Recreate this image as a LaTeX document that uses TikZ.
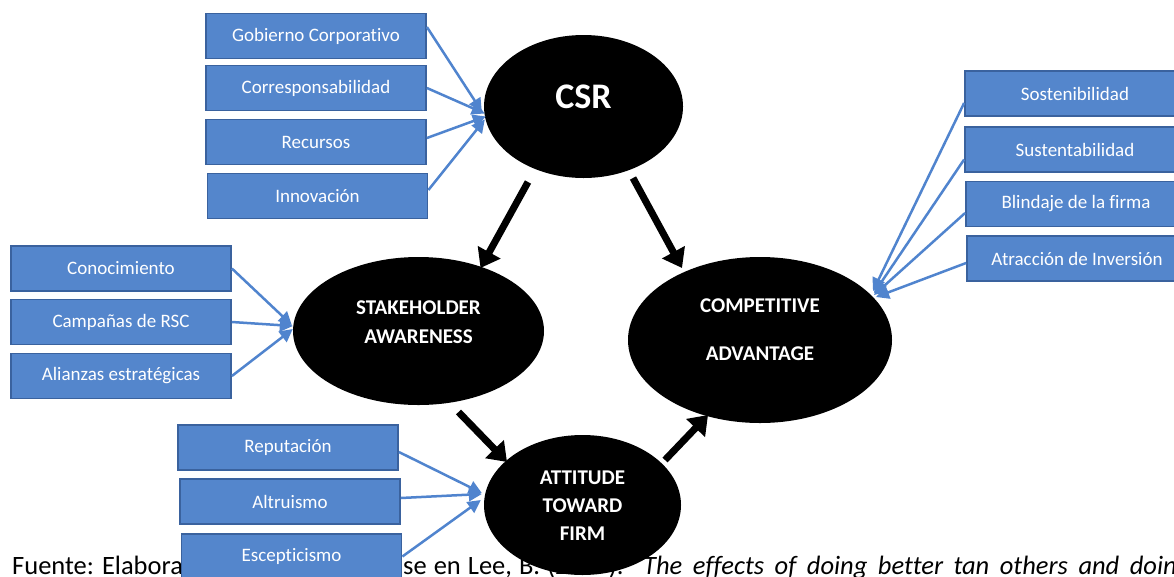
\documentclass[tikz,border=0pt]{standalone}
\usepackage{fontspec}
\setmainfont{Carlito}[Ligatures=NoCommon]
\usetikzlibrary{arrows.meta,shapes.geometric}
\definecolor{boxfill}{RGB}{84,134,204}
\definecolor{boxline}{RGB}{58,98,158}
\definecolor{linkblue}{RGB}{80,132,206}
\begin{document}
\begin{tikzpicture}[x=1pt,y=-1pt,
  box/.style={draw=boxline, line width=1.8pt, fill=boxfill, text=white,
    minimum width=220pt, minimum height=45pt, inner sep=0pt,
    font=\fontsize{19}{22}\selectfont},
  bubble/.style={ellipse, fill=black, draw=none, inner sep=0pt},
  bubtext/.style={text=white, font=\bfseries\fontsize{21}{29}\selectfont, align=center, inner sep=0pt},
  link/.style={draw=linkblue, line width=2.5pt, -{Triangle[length=13pt,width=13pt]}},
  flow/.style={draw=black, line width=7pt, -{Triangle[length=18pt,width=25pt]}},
  foot/.style={inner sep=0pt, font=\fontsize{26.5}{30}\selectfont}]
\useasboundingbox (0,0) rectangle (1174,576);
\clip (0,0) rectangle (1174,576);
\fill[white] (0,0) rectangle (1174,576);

% footer text (partly hidden)
\node[foot, anchor=base west] (f1) at (12,574) {Fuente: Elaboración propia con};
\node[foot, anchor=base west] (f2) at (376.4,574) {\spaceskip=7pt base en Lee, B. (2017).};
\node[foot, anchor=base west] (f3) at (643,574) {\spaceskip=10.5pt\itshape The effects of doing better tan others and doing good};

% ellipses
\node[bubble, minimum width=199pt, minimum height=143pt] (csr) at (583.5,106.5) {};
\node[bubble, minimum width=251pt, minimum height=148pt] (stake) at (418.5,331) {};
\node[bubble, minimum width=264pt, minimum height=166pt] (comp) at (760,340) {};
\node[bubble, minimum width=197pt, minimum height=140pt] (att) at (582.5,505) {};

\node[bubtext, font=\bfseries\fontsize{36}{40}\selectfont] (csrt) at (583.5,97) {CSR};
\node[bubtext] (staket) at (418.5,322) {STAKEHOLDER\\AWARENESS};
\node[bubtext, font=\bfseries\fontsize{21}{48}\selectfont] (compt) at (760,330) {COMPETITIVE\\ADVANTAGE};
\node[bubtext, font=\bfseries\fontsize{21}{28}\selectfont] (attt) at (582.5,506) {ATTITUDE\\TOWARD\\FIRM};

% boxes
\node[box] (gob) at (316,36) {Gobierno Corporativo};
\node[box] (cor) at (316,88) {Corresponsabilidad};
\node[box] (rec) at (316,142) {Recursos};
\node[box] (inn) at (317.5,196) {Innovación};

\node[box] (sos) at (1075,93.5) {Sostenibilidad};
\node[box] (sus) at (1075,149.5) {Sustentabilidad};
\node[box] (bli) at (1076,204) {Blindaje de la firma};
\node[box] (atr) at (1077,258.5) {Atracción de Inversión};

\node[box] (con) at (121,268.5) {Conocimiento};
\node[box] (cam) at (121,322) {Campañas de RSC};
\node[box] (ali) at (121,376) {Alianzas estratégicas};

\node[box] (rep) at (288,447.5) {Reputación};
\node[box] (alt) at (290,501.5) {Altruismo};
\node[box] (esc) at (291.5,556.5) {Escepticismo};

% blue links
\draw[link] ([yshift=9pt]gob.east) -- ([shift={(-2,5)}]csr.west);
\draw[link] (cor.east) -- ([shift={(1,7)}]csr.west);
\draw[link] ([yshift=4pt]rec.east) -- ([shift={(2,10)}]csr.west);
\draw[link] ([yshift=6pt]inn.east) -- ([shift={(1,13)}]csr.west);

\draw[link] ([yshift=-9.5pt]sos.west) -- ([shift={(113,-49)}]comp.center);
\draw[link] ([yshift=-10pt]sus.west) -- ([shift={(114,-47)}]comp.center);
\draw[link] ([yshift=-9pt]bli.west) -- ([shift={(114,-45)}]comp.center);
\draw[link] ([yshift=-4.5pt]atr.west) -- ([shift={(116,-43)}]comp.center);

\draw[link] (con.east) -- ([shift={(-1,-6)}]stake.west);
\draw[link] (cam.east) -- ([shift={(0,-5)}]stake.west);
\draw[link] (ali.east) -- ([shift={(0,-2)}]stake.west);

\draw[link] ([yshift=-4.5pt]rep.east) -- ([shift={(-2,-12)}]att.west);
\draw[link] ([yshift=3.5pt]alt.east) -- ([shift={(-2,-11)}]att.west);
\draw[link] (esc.east) -- ([shift={(-3,-5)}]att.west);

% black flows
\draw[flow] ([shift={(-55.5,75.5)}]csr.center) -- ([shift={(62,-63)}]stake.center);
\draw[flow] ([shift={(49.5,71.5)}]csr.center) -- ([shift={(-78,-72)}]comp.center);
\draw[flow] ([shift={(40,81)}]stake.center) -- ([shift={(-75.5,-43)}]att.center);
\draw[flow] ([shift={(82.5,-45)}]att.center) -- ([shift={(-52,75)}]comp.center);
\end{tikzpicture}
\end{document}
